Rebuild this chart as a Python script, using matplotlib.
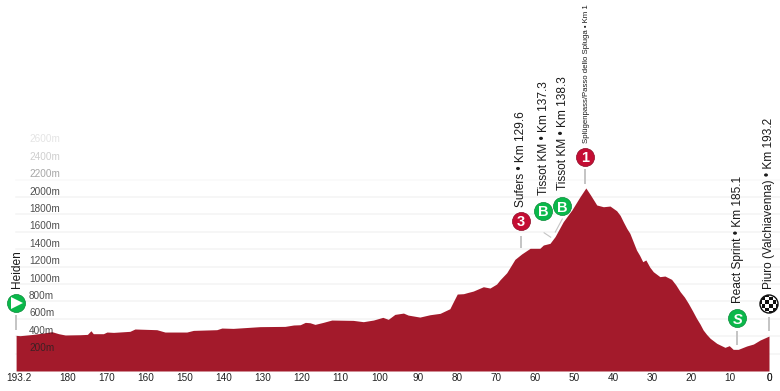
"""Stage elevation profile, Heiden to Piuro."""

from matplotlib import pyplot
from matplotlib import patches, transforms

# Distance to the finish (km) and elevation (m) along the route.
dist_values = [193.2, 192.2, 188.8, 186.2, 184.0, 182.3, 180.6, 176.8, 174.9,
               174.0, 173.4, 170.8, 169.9, 168.2, 164.0, 162.7, 157.1, 155.0,
               149.4, 147.7, 141.7, 140.4, 137.5, 130.6, 124.2, 122.0, 120.3,
               119.0, 117.8, 116.5, 114.4, 112.2, 106.7, 104.1, 101.5, 99.1,
               97.7, 96.0, 93.8, 92.6, 89.6, 87.0, 84.4, 81.9, 81.0, 80.0,
               78.4, 77.2, 75.9, 73.3, 71.6, 69.9, 69.0, 67.3, 65.2, 63.5,
               61.3, 58.8, 57.9, 56.2, 54.9, 52.8, 50.6, 48.5, 47.0, 45.8,
               44.2, 42.5, 40.8, 39.1, 38.2, 37.4, 36.5, 35.7, 34.0, 33.2,
               32.4, 31.6, 30.6, 29.7, 28.0, 26.7, 25.0, 23.9, 22.8, 21.7,
               20.7, 19.6, 18.6, 17.7, 16.9, 16.0, 15.1, 13.4, 11.3,
               10.2, 9.2, 7.9, 5.7, 4.0, 2.3, 0.0]
elev_values = [410, 406, 421, 437, 452, 429, 414, 417, 421,
               463, 429, 429, 448, 444, 456, 483, 475, 448,
               448, 467, 475, 494, 490, 510, 513, 529, 532,
               559, 555, 536, 559, 586, 582, 567, 586, 617,
               594, 651, 666, 643, 620, 647, 663, 716, 797, 885,
               889, 904, 919, 969, 954, 1000, 1050, 1130, 1284, 1345,
               1411, 1411, 1449, 1468, 1545, 1717, 1851, 2004, 2105, 2024,
               1909, 1889, 1897, 1843, 1790, 1717, 1640, 1583, 1391, 1330,
               1257, 1277, 1195, 1142, 1085, 1092, 1054, 990, 912, 850,
               778, 690, 606, 540, 472, 420, 376, 318, 272,
               291, 249, 249, 288, 310, 356, 402]

x_ticks = [180, 170, 160, 150, 140, 130, 120, 110, 100, 90, 80, 70, 60, 50,
           40, 30, 20, 10, 0]
y_ticks = [200, 400, 600, 800, 1000, 1200, 1400, 1600, 1800, 2000, 2200,
           2400, 2600]
total_km = 193.2

point_names = ['Heiden', 'Sufers \u2022 Km 129.6', 'Tissot KM \u2022 Km 137.3',
               'Tissot KM \u2022 Km 138.3',
               'Spl\u00fcgenpass/Passo dello Spluga \u2022 Km 1',
               'React Sprint \u2022 Km 185.1',
               'Piuro (Valchiavenna) \u2022 Km 193.2']
point_kms = [0.0, 129.6, 137.3, 138.3, 146.0, 185.1, 193.2]
point_marks = ['start', '3', 'B', 'B', '1', 'S', 'finish']

PX_KM = 3.897
PX_M = 1 / 11.5
RED = '#a31a2b'
GREEN = '#0ab84a'
CLIMB = '#c40d33'

pyplot.rcParams['font.family'] = ['Liberation Sans', 'DejaVu Sans']
fig = pyplot.figure(figsize=(7.8, 3.91), dpi=100)
ax = fig.add_axes([0, 0, 1, 1])
ax.set_xlim(769 / PX_KM, -11 / PX_KM)
ax.set_ylim(-20 / PX_M, 371 / PX_M)
ax.axis('off')


def elev_at(px_above):
    return px_above / PX_M


def km_off(px_right):
    return -px_right / PX_KM


# Gridlines and labels fade out towards the top.
for value in y_ticks:
    if value <= 2000:
        grid_color, text_alpha = '#f5f5f5', 0.8
    elif value == 2200:
        grid_color, text_alpha = '#fafafa', 0.4
    elif value == 2400:
        grid_color, text_alpha = '#ffffff', 0.22
    else:
        grid_color, text_alpha = '#ffffff', 0.12
    ax.plot([total_km, km_off(11)], [value, value], color=grid_color, lw=1.2,
            zorder=1)
    ax.text(total_km + km_off(13), value + elev_at(5.5), f'{value}m',
            fontsize=7.2, color='#222222', alpha=text_alpha, va='center',
            ha='left', zorder=4)

ax.fill_between(dist_values, elev_values, 0, color=RED, lw=0, zorder=2)

for value in x_ticks + [0]:
    ax.text(value, elev_at(-7), str(value), fontsize=7.2, color='#222222',
            ha='center', va='center')
ax.text(total_km + km_off(3), elev_at(-7), '193.2', fontsize=7.2,
        color='#222222', ha='center', va='center')

# Icon height, stem ends and label foot above the baseline, in pixels.
icon_y = [68, 150, 160, 165, 214, 53, 67]
icon_dx = [0, 0, -8, 7, 0, 0, 0]
stem_y = [(41, 56), (123, 135), (133.5, 138.5), (138.5, 152.5), (187, 202),
          (26, 40), (40, 54)]
stem_dx = [(0, 0), (0, 0), (0, -7.5), (0, 7.5), (0, 0), (0, 0), (0, 0)]
label_y = [83, 164, 176, 181, 228, 68, 82]
label_dx = [1, 0, -7, 8, 1, 1, 0]
label_size = [8.6, 8.6, 8.6, 8.6, 5.6, 8.6, 8.6]

for i, name in enumerate(point_names):
    km = total_km - point_kms[i]
    ax.plot([km + km_off(stem_dx[i][0]), km + km_off(stem_dx[i][1])],
            [elev_at(stem_y[i][0]), elev_at(stem_y[i][1])],
            color='#c4c4c4', lw=1.4 if stem_dx[i][1] == 0 else 0.8, zorder=3,
            solid_capstyle='butt')
    ax.text(km + km_off(label_dx[i]), elev_at(label_y[i]), name, rotation=90,
            fontsize=label_size[i], color='#1a1a1a', ha='center', va='bottom',
            zorder=6)
    cx = km + km_off(icon_dx[i])
    cy = elev_at(icon_y[i])
    mark = point_marks[i]
    if mark == 'finish':
        px, py = ax.transData.transform((cx, cy))
        trans = transforms.Affine2D().translate(px, py)
        disc = patches.Circle((0, 0), 9, facecolor='white', edgecolor='#111111',
                              lw=1.0, transform=trans, zorder=7)
        ax.add_patch(disc)
        for row in range(-3, 3):
            for col in range(-3, 3):
                if (row + col) % 2:
                    square = patches.Rectangle((col * 3.6, row * 3.6), 3.6, 3.6,
                                               facecolor='#111111', lw=0,
                                               transform=trans, zorder=8)
                    ax.add_patch(square)
                    square.set_clip_path(disc)
        continue
    color = CLIMB if mark in ('3', '1') else GREEN
    edge = '#8c0a25' if mark in ('3', '1') else '#078a38'
    ax.plot([cx], [cy], marker='o', ms=13, mfc=color, mec=edge, mew=0.5,
            zorder=7, ls='none')
    if mark == 'start':
        ax.plot([cx + km_off(0.8)], [cy], marker='>', ms=8, mfc='white',
                mec='white', mew=0, zorder=8, ls='none')
    else:
        ax.text(cx, cy, mark, fontsize=10.5, fontweight='bold', color='white',
                style='italic' if mark == 'S' else 'normal', ha='center',
                va='center_baseline', zorder=8)

fig.savefig('out.png', dpi=100)
